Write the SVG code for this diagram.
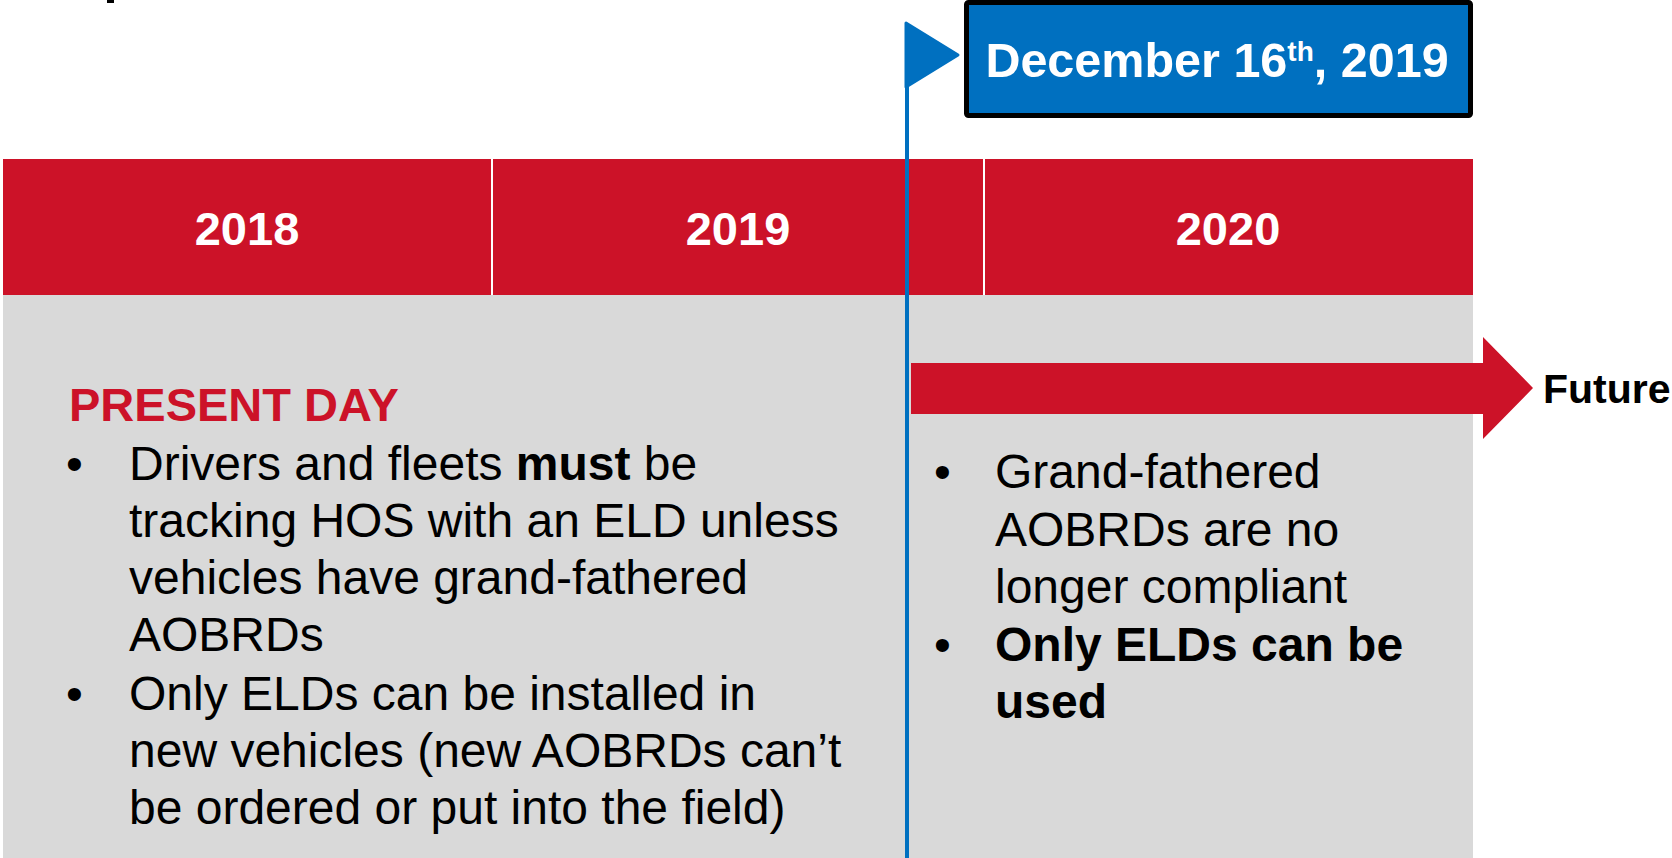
<svg xmlns="http://www.w3.org/2000/svg" width="1672" height="858" viewBox="0 0 1672 858">
  <style>
    text { font-family: "Liberation Sans", Arial, sans-serif; }
    .year { font-size: 47px; font-weight: bold; fill: #FFFFFF; text-anchor: middle; }
    .body { font-size: 48px; fill: #000000; }
    .b { font-weight: bold; }
    .red { fill: #CC1228; }
    .gray { fill: #D9D9D9; }
    .blue { fill: #0070C0; }
  </style>
  <rect x="0" y="0" width="1672" height="858" fill="#FFFFFF"/>
  <rect x="107" y="0" width="7" height="3" fill="#000000"/>

  <g id="timeline-band">
    <rect class="gray" x="3" y="295" width="1470" height="563"/>
    <rect class="red" x="3" y="159" width="1470" height="136"/>
    <rect x="491" y="159" width="2" height="136" fill="#FFFFFF"/>
    <rect x="983" y="159" width="2" height="136" fill="#FFFFFF"/>
  </g>

  <g id="year-2018"><text class="year" x="247" y="245">2018</text></g>
  <g id="year-2019"><text class="year" x="738" y="245">2019</text></g>
  <g id="year-2020"><text class="year" x="1228" y="245">2020</text></g>

  <g id="present-day">
    <text x="69" y="421" font-size="47" font-weight="bold" class="red">PRESENT DAY</text>
    <text class="body" x="66" y="480">•</text>
    <text class="body" x="129" y="480">Drivers and fleets <tspan class="b">must</tspan> be</text>
    <text class="body" x="129" y="537">tracking HOS with an ELD unless</text>
    <text class="body" x="129" y="594">vehicles have grand-fathered</text>
    <text class="body" x="129" y="651">AOBRDs</text>
    <text class="body" x="66" y="710">•</text>
    <text class="body" x="129" y="710">Only ELDs can be installed in</text>
    <text class="body" x="129" y="767">new vehicles (new AOBRDs can’t</text>
    <text class="body" x="129" y="824">be ordered or put into the field)</text>
  </g>

  <g id="future-notes">
    <text class="body" x="934" y="488">•</text>
    <text class="body" x="995" y="488">Grand-fathered</text>
    <text class="body" x="995" y="546">AOBRDs are no</text>
    <text class="body" x="995" y="603">longer compliant</text>
    <text class="body" x="934" y="661">•</text>
    <text class="body b" x="995" y="661">Only ELDs can be</text>
    <text class="body b" x="995" y="718">used</text>
  </g>

  <g id="connectors">
    <polygon id="future-arrow" class="red" points="911,363 1483,363 1483,337 1533,388 1483,439 1483,414 911,414"/>
    <rect id="date-line" class="blue" x="905" y="24" width="4" height="834"/>
  </g>

  <g id="future-label">
    <text x="1543" y="403" font-size="41" font-weight="bold" fill="#000000">Future</text>
  </g>

  <g id="date-flag">
    <polygon class="blue" points="906,23 958,55 906,87" stroke="#0070C0" stroke-width="3" stroke-linejoin="round"/>
    <rect x="966.5" y="2.5" width="504" height="113" rx="2" fill="#0070C0" stroke="#000000" stroke-width="5"/>
    <text x="1217" y="77" font-size="48.5" font-weight="bold" fill="#FFFFFF" text-anchor="middle">December 16<tspan font-size="28" dy="-16">th</tspan><tspan dy="16">, 2019</tspan></text>
  </g>
</svg>
